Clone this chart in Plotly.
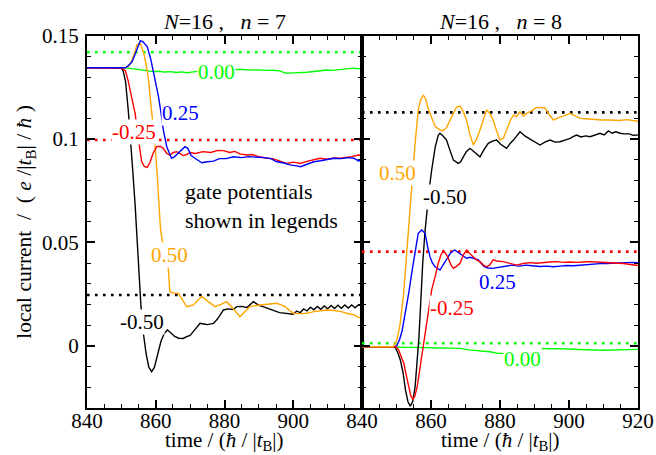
import plotly.graph_objects as go

# ---------------- data: left panel (N=16, n=7) ----------------
L_black_t = [840, 845, 850, 850.5, 851.2, 852, 852.7, 853.3, 854, 854.8, 855.7, 856.4, 857.2, 858, 858.8, 859.6, 860.5,
             861.5, 862.5, 863.4, 864.5, 865.5, 866.7, 868, 869, 870, 870.9, 872, 872.9, 874, 875, 876.8, 878, 879.7,
             881, 882.5, 883.6, 885, 886.5, 888.4, 890, 891, 892.3, 894, 896, 898, 900, 901, 902, 903, 904, 905, 906,
             907, 908, 909, 910, 911, 912, 913, 914, 915, 916, 917, 918, 919, 920]
L_black_v = [0.1345, 0.1345, 0.1343, 0.133, 0.128, 0.114, 0.1, 0.085, 0.068, 0.045, 0.019, 0.006, -0.004, -0.0105,
             -0.0126, -0.0105, -0.004, 0.002, 0.006, 0.0076, 0.006, 0.0045, 0.0036, 0.0035, 0.0044, 0.005, 0.0068,
             0.009, 0.0108, 0.0105, 0.0102, 0.0108, 0.013, 0.0173, 0.0178, 0.0175, 0.0189, 0.019, 0.0185, 0.0213,
             0.0195, 0.019, 0.0181, 0.0172, 0.016, 0.0155, 0.0152, 0.0168, 0.016, 0.0178, 0.0168, 0.0186, 0.0174,
             0.019, 0.0176, 0.0192, 0.0178, 0.0195, 0.018, 0.0196, 0.0181, 0.0197, 0.0182, 0.0197, 0.0183, 0.0198, 0.019]

L_red_t = [840, 845, 850, 851.2, 852, 853, 854, 855, 855.9, 856.7, 857.5, 858.3, 859.2, 860.3, 861.2, 862.2, 863.2,
           864.1, 865.1, 866.1, 867, 868, 869, 870, 871.5, 873.8, 876, 878, 879.7, 881.5, 883, 884.5, 886.5, 888,
           890, 892.3, 894, 896, 898.1, 900, 902, 904, 906, 907.8, 910, 912, 913.6, 915, 917, 919, 920]
L_red_v = [0.1345, 0.1345, 0.1343, 0.133, 0.128, 0.12, 0.1124, 0.0995, 0.089, 0.0868, 0.0863, 0.0885, 0.093, 0.0963,
           0.0965, 0.0955, 0.093, 0.0922, 0.0935, 0.0939, 0.0928, 0.092, 0.0925, 0.0935, 0.093, 0.0939, 0.0935,
           0.0945, 0.0944, 0.0935, 0.094, 0.0928, 0.0923, 0.0925, 0.0915, 0.0907, 0.0905, 0.0895, 0.0882, 0.0888,
           0.0882, 0.0892, 0.09, 0.0907, 0.0902, 0.0908, 0.0907, 0.091, 0.0915, 0.0923, 0.092]

L_blue_t = [840, 845, 850, 851.2, 852, 853.1, 854, 855, 855.5, 856.3, 857.5, 858.5, 859.2, 859.9, 860.8, 861.5,
            862.2, 863.2, 864, 864.6, 865.5, 866.6, 867.6, 868.5, 869.3, 870.3, 871.4, 872.4, 873.4, 875, 876.8,
            878.5, 880.5, 882.6, 885, 887, 889.4, 891.5, 893.5, 895.2, 897, 899, 901, 902.1, 904, 906, 908, 910,
            911.8, 914, 916, 917.6, 919, 920]
L_blue_v = [0.1345, 0.1345, 0.1343, 0.1345, 0.1355, 0.1374, 0.141, 0.146, 0.1476, 0.147, 0.1447, 0.139, 0.1335,
            0.1285, 0.1205, 0.113, 0.1044, 0.0963, 0.0925, 0.0907, 0.0915, 0.0931, 0.095, 0.0963, 0.0955, 0.092,
            0.0907, 0.0895, 0.0885, 0.089, 0.0893, 0.0905, 0.0905, 0.0914, 0.091, 0.0915, 0.0914, 0.091, 0.0905,
            0.089, 0.0885, 0.0875, 0.087, 0.0866, 0.0878, 0.089, 0.0895, 0.09, 0.0907, 0.0905, 0.091, 0.0907,
            0.0894, 0.0898]

L_orange_t = [840, 845, 850, 851.5, 852.5, 853.5, 854.5, 855.5, 856.5, 857.2, 857.9, 858.4, 858.9, 859.4, 859.9,
              860.4, 860.9, 861.4, 862.5, 863.6, 864.1, 865, 866.6, 867.8, 869, 871, 872.2, 873.4, 874.3, 875.3,
              876.2, 877.2, 879, 880.6, 882.5, 884.5, 886, 887.4, 890.3, 893, 895.2, 897.5, 900, 902, 903.9, 906,
              909.7, 912, 914, 915.5, 917.5, 919, 920]
L_orange_v = [0.1345, 0.1345, 0.1343, 0.1345, 0.136, 0.14, 0.1455, 0.1463, 0.1415, 0.136, 0.1285, 0.12, 0.1124,
              0.104, 0.0947, 0.083, 0.07, 0.056, 0.045, 0.0382, 0.0261, 0.0255, 0.0253, 0.022, 0.0189, 0.0197,
              0.022, 0.0237, 0.0225, 0.0213, 0.02, 0.0189, 0.02, 0.0213, 0.018, 0.014, 0.0165, 0.0189, 0.0197,
              0.02, 0.0205, 0.019, 0.0157, 0.0155, 0.0157, 0.0165, 0.0173, 0.017, 0.0165, 0.0157, 0.015, 0.0137,
              0.0135]

L_green_t = [840, 845, 850, 852, 854, 855.5, 857, 859.4, 861, 862.5, 864.3, 866, 867.5, 869.1, 871, 873, 875, 877,
             879, 881, 883, 885, 886.5, 888, 890.3, 892, 894, 896, 898, 900, 902, 904, 906, 908, 909.7, 911.5,
             913.5, 915.5, 917.5, 919, 920]
L_green_v = [0.1343, 0.1343, 0.1343, 0.1343, 0.1338, 0.1334, 0.133, 0.1326, 0.1328, 0.1324, 0.1326, 0.1322,
             0.1325, 0.1321, 0.1325, 0.133, 0.1334, 0.1335, 0.1336, 0.1337, 0.1337, 0.1337, 0.1335, 0.1336,
             0.1334, 0.1332, 0.1333, 0.133, 0.1318, 0.132, 0.132, 0.1323, 0.1327, 0.133, 0.1334, 0.1332, 0.1336,
             0.1338, 0.1343, 0.134, 0.1342]

# ---------------- data: right panel (N=16, n=8) ----------------
R_orange_t = [840, 845, 849, 850, 851, 852, 853, 853.9, 854.6, 855.4, 856.3, 857, 857.8, 858.5, 859.2, 860.2, 861.2,
              862.6, 863.5, 864.5, 865.5, 866.5, 867.4, 868.4, 869.4, 870.3, 871.3, 872.3, 873.2, 874.2, 875.2,
              876.1, 877, 878, 879, 880, 881, 881.9, 883, 883.9, 884.8, 885.8, 886.8, 887.7, 889, 890.6, 891.8, 893,
              894.2, 895.5, 896.5, 897.4, 898.8, 900.3, 901.8, 903.2, 905, 907.1, 909.5, 912, 914.5, 916.8, 918.5,
              919.6, 920]
R_orange_v = [-0.0005, -0.0005, -0.0005, 0.002, 0.01, 0.024, 0.047, 0.065, 0.08, 0.098, 0.114, 0.119, 0.1213,
              0.119, 0.1148, 0.1108, 0.106, 0.1044, 0.104, 0.1055, 0.109, 0.1124, 0.1155, 0.116, 0.113, 0.1092,
              0.102, 0.0971, 0.1, 0.1044, 0.11, 0.114, 0.1125, 0.1092, 0.104, 0.0995, 0.1005, 0.1044, 0.109,
              0.1116, 0.111, 0.1132, 0.111, 0.1124, 0.1135, 0.1153, 0.115, 0.115, 0.112, 0.1092, 0.11, 0.1105,
              0.1115, 0.1124, 0.1112, 0.11, 0.1098, 0.1095, 0.1092, 0.1092, 0.109, 0.1094, 0.1088, 0.1084, 0.1086]

R_black_t = [840, 845, 849, 849.7, 850.4, 851.1, 851.9, 852.6, 853.3, 854.0, 854.7, 855.4, 856, 856.5, 857, 857.6,
             858.3, 858.9, 859.5, 860.2, 861.2, 862.1, 862.6, 863.5, 864.5, 865.5, 866.5, 867.9, 868.6, 869.4,
             870.3, 871.3, 872.3, 873.2, 874.2, 875.4, 876.6, 877.8, 879, 880.2, 881.9, 883, 883.9, 885.8, 887.2,
             888.7, 890.2, 891.6, 893, 894.5, 896, 897.4, 898.8, 900.3, 901.2, 902.2, 903.5, 904.8, 906.1, 907.5,
             909, 910.2, 911.4, 912.5, 913.6, 914.8, 916, 917.5, 918.6, 919.6, 920]
R_black_v = [-0.0005, -0.0005, -0.0005, -0.001, -0.0035, -0.0069, -0.013, -0.0214, -0.027, -0.0292, -0.027,
             -0.0198, -0.008, 0.004, 0.02, 0.04, 0.056, 0.067, 0.076, 0.085, 0.096, 0.1018, 0.1028, 0.1015, 0.0995,
             0.0945, 0.0898, 0.0882, 0.089, 0.0915, 0.094, 0.0955, 0.094, 0.093, 0.0914, 0.095, 0.0979, 0.099,
             0.0995, 0.0975, 0.0955, 0.098, 0.0995, 0.1035, 0.1015, 0.1, 0.0985, 0.0971, 0.0985, 0.0995, 0.0985,
             0.0987, 0.0995, 0.1003, 0.1012, 0.1019, 0.101, 0.1015, 0.1011, 0.102, 0.1028, 0.102, 0.1039, 0.1028,
             0.1035, 0.1028, 0.1025, 0.1025, 0.1018, 0.1019, 0.102]

R_blue_t = [840, 845, 849.5, 850.1, 850.9, 851.6, 852.3, 852.9, 853.6, 854.4, 855.4, 856.3, 857.3, 858.3, 859,
            859.7, 860.4, 861.2, 862.6, 863.5, 864.5, 865.7, 866.9, 867.6, 868.4, 869.3, 870.3, 871.3, 872.3,
            873.7, 875.4, 876.5, 877.8, 879.2, 880.7, 882.2, 883.6, 885.5, 887.5, 889.4, 891.5, 893.5, 895.5,
            897.4, 899.3, 901.3, 903.2, 905.2, 907.1, 909, 910.9, 912.9, 914.8, 916.8, 918.5, 919.6, 920]
R_blue_v = [-0.0005, -0.0005, -0.0005, 0.0, 0.003, 0.007, 0.013, 0.019, 0.026, 0.035, 0.0463, 0.0544, 0.056,
            0.0544, 0.048, 0.0431, 0.04, 0.0382, 0.0366, 0.039, 0.0423, 0.045, 0.0463, 0.0455, 0.0447, 0.0435,
            0.0423, 0.0428, 0.0423, 0.0415, 0.0382, 0.0376, 0.0374, 0.0378, 0.0382, 0.0388, 0.039, 0.0385, 0.039,
            0.0387, 0.0383, 0.0385, 0.0382, 0.0385, 0.0388, 0.0387, 0.039, 0.0392, 0.0394, 0.0397, 0.0398, 0.04,
            0.0399, 0.0402, 0.0403, 0.0402, 0.0401]

R_red_t = [840, 845, 849.8, 850.6, 851.4, 852.1, 852.8, 853.5, 854.1, 854.7, 855.3, 856, 856.7, 857.4, 858.1,
           858.8, 859.5, 860.2, 861.2, 862.1, 862.9, 863.6, 864.3, 865, 865.8, 866.5, 867.5, 868.4, 869.4, 870.3,
           871.3, 872.3, 873.2, 874.2, 875.2, 876.1, 877, 878, 879, 880.9, 882.8, 884.8, 886.7, 888.7, 890.6,
           892.5, 894.5, 896.4, 898.4, 900.3, 902.2, 904.2, 906.1, 908, 910, 912, 913.9, 915.8, 917.8, 919.6, 920]
R_red_v = [-0.0005, -0.0005, -0.0005, -0.002, -0.005, -0.0085, -0.014, -0.0198, -0.024, -0.026, -0.0245, -0.0198,
           -0.012, -0.0037, 0.004, 0.0124, 0.02, 0.027, 0.0334, 0.0399, 0.044, 0.046, 0.0445, 0.0423, 0.039,
           0.0374, 0.0385, 0.0399, 0.044, 0.0463, 0.0445, 0.043, 0.0415, 0.0407, 0.039, 0.0382, 0.039, 0.0415,
           0.041, 0.0407, 0.0398, 0.039, 0.0398, 0.0402, 0.0399, 0.0403, 0.0405, 0.0407, 0.0403, 0.0405, 0.0403,
           0.0405, 0.0407, 0.0405, 0.0404, 0.0403, 0.0402, 0.0398, 0.0393, 0.0387, 0.0388]

R_green_t = [840, 850, 855, 860, 865, 868.4, 871, 874, 877, 879.5, 882, 885, 888, 890.6, 894, 897.4, 901, 904,
             907.1, 910, 913, 916.8, 918.5, 920]
R_green_v = [-0.0005, -0.0005, -0.0008, -0.001, -0.0012, -0.0013, -0.002, -0.0025, -0.0029, -0.0037, -0.0038,
             -0.003, -0.002, -0.0013, -0.0015, -0.0014, -0.0017, -0.002, -0.0021, -0.0022, -0.002, -0.0021,
             -0.0019, -0.0018]

# dotted reference levels
L_ref_levels = [0.142, 0.0995, 0.0245]
L_ref_colors = ["#00ff00", "#ff0000", "#000000"]
R_ref_levels = [0.1129, 0.0455, 0.0012]
R_ref_colors = ["#000000", "#ff0000", "#00ff00"]

# curve labels: (text, t, value, color)
L_labels = [("0.00", 877.7, 0.1326, "#00ff00"), ("0.25", 867.3, 0.1127, "#0000ff"),
            ("-0.25", 853.7, 0.1032, "#ff0000"), ("0.50", 863.9, 0.0439, "#ffa500"),
            ("-0.50", 855.9, 0.0116, "#000000")]
R_labels = [("0.50", 850.2, 0.0837, "#ffa500"), ("-0.50", 864.1, 0.0721, "#000000"),
            ("0.25", 879.2, 0.031, "#0000ff"), ("-0.25", 866.0, 0.0181, "#ff0000"),
            ("0.00", 886.5, -0.0066, "#00ff00")]

x_range = [840, 920]
y_range = [-0.03, 0.15]

# ---------------- figure ----------------
W, H = 656, 455
FONT = "Liberation Serif"
fig = go.Figure()

def add_panel(xa, ya, series, refs):
    for lev, col in refs:
        fig.add_trace(go.Scatter(x=x_range, y=[lev, lev], mode="lines", xaxis=xa, yaxis=ya,
                                 line=dict(color=col, width=2.6, dash="2.6px,5.4px"), showlegend=False,
                                 hoverinfo="skip"))
    for t, v, col in series:
        fig.add_trace(go.Scatter(x=t, y=v, mode="lines", xaxis=xa, yaxis=ya,
                                 line=dict(color=col, width=1.4), showlegend=False))

add_panel("x", "y",
          [(L_green_t, L_green_v, "#00ff00"), (L_black_t, L_black_v, "#000000"),
           (L_orange_t, L_orange_v, "#ffa500"), (L_red_t, L_red_v, "#ff0000"),
           (L_blue_t, L_blue_v, "#0000ff")],
          list(zip(L_ref_levels, L_ref_colors)))
add_panel("x2", "y2",
          [(R_green_t, R_green_v, "#00ff00"), (R_black_t, R_black_v, "#000000"),
           (R_blue_t, R_blue_v, "#0000ff"), (R_red_t, R_red_v, "#ff0000"),
           (R_orange_t, R_orange_v, "#ffa500")],
          list(zip(R_ref_levels, R_ref_colors)))

x0, xm, x1 = 87 / W, 362 / W, 638 / W
y0, y1 = 1 - 407.7 / H, 1 - 35.7 / H

axis_common = dict(range=x_range, showline=True, linecolor="black", linewidth=2, mirror="ticks",
                   ticks="inside", ticklen=8, tickwidth=1.5, tickcolor="black", showgrid=False, zeroline=False,
                   automargin=False, ticklabelstandoff=-7,
                   tickfont=dict(family=FONT, size=21, color="black"),
                   minor=dict(ticks="inside", ticklen=4, tickwidth=1.2, tickcolor="black",
                              tickmode="linear", tick0=840, dtick=5, showgrid=False))
fig.update_layout(
    xaxis=dict(domain=[x0, xm], anchor="y", tickmode="array",
               tickvals=[840, 860, 880, 900, 920], ticktext=["840", "860", "880", "900", ""], **axis_common),
    xaxis2=dict(domain=[xm, x1], anchor="y2", tickmode="linear", tick0=840, dtick=20, **axis_common),
)
yaxis_common = dict(range=y_range, domain=[y0, y1], showline=True, linecolor="black", linewidth=2,
                    mirror="ticks", ticks="inside", ticklen=8, tickwidth=1.5, tickcolor="black",
                    showgrid=False, zeroline=False, tickmode="linear", tick0=0, dtick=0.05, automargin=False,
                    tickfont=dict(family=FONT, size=21, color="black"),
                    minor=dict(ticks="inside", ticklen=4, tickwidth=1.2, tickcolor="black",
                               tickmode="linear", tick0=0, dtick=0.01, showgrid=False))
fig.update_layout(
    yaxis=dict(anchor="x", ticklabelstandoff=2, **yaxis_common),
    yaxis2=dict(anchor="x2", showticklabels=False, **yaxis_common),
)

ann = []
for labels, xa, ya in [(L_labels, "x", "y"), (R_labels, "x2", "y2")]:
    for txt, t, v, col in labels:
        ann.append(dict(x=t, y=v, xref=xa, yref=ya, text=txt, showarrow=False, bgcolor="white",
                        xanchor="center", yanchor="middle",
                        borderpad=0, font=dict(family=FONT, size=21, color=col)))
ann.append(dict(x=867.9, y=0.0676, xref="x", yref="y", xanchor="left", yanchor="middle", align="left",
                showarrow=False, text="gate potentials<br>shown in legends",
                font=dict(family=FONT, size=22, color="black")))
nb = "\u00a0"
for cx, nval in [((x0 + xm) / 2, "7"), ((xm + x1) / 2, "8")]:
    ann.append(dict(x=cx, y=1 - 21 / H, xref="paper", yref="paper", showarrow=False,
                    xanchor="center", yanchor="middle",
                    text=f"<i>N</i>=16{nb},{nb}{nb}{nb}<i>n</i>{nb}={nb}{nval}",
                    font=dict(family=FONT, size=22, color="black")))
xt = f"time{nb}/{nb}(<i>ħ</i>{nb}/{nb}|<i>t</i><sub>B</sub>|)"
for cx in [(x0 + xm) / 2, (xm + x1) / 2]:
    ann.append(dict(x=cx, y=1 - 441 / H, xref="paper", yref="paper", showarrow=False, text=xt,
                    xanchor="center", yanchor="middle",
                    font=dict(family=FONT, size=21, color="black")))
yt = f"local current{nb}{nb}/{nb}{nb}({nb}<i>e</i>{nb}/|<i>t</i><sub>B</sub>|{nb}/{nb}<i>ħ</i>{nb})"
ann.append(dict(x=26 / W, y=(y0 + y1) / 2, xref="paper", yref="paper", showarrow=False, textangle=-90,
                xanchor="center", yanchor="middle",
                text=yt, font=dict(family=FONT, size=21.5, color="black")))

fig.update_layout(width=W, height=H, margin=dict(l=0, r=0, t=0, b=0, autoexpand=False), paper_bgcolor="white",
                  plot_bgcolor="white", annotations=ann, showlegend=False,
                  font=dict(family=FONT, size=20, color="black"))
fig.write_html("out.html")
